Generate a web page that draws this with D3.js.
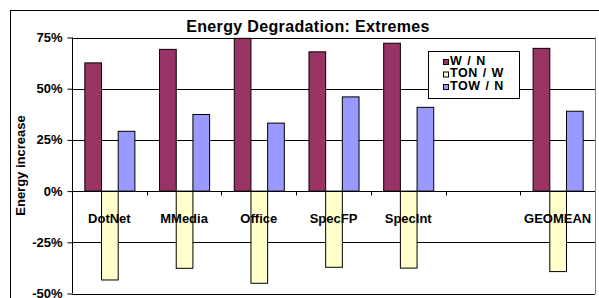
<!DOCTYPE html>
<html><head><meta charset="utf-8">
<script src="https://cdn.jsdelivr.net/npm/d3@7"></script>
<style>body{margin:0;background:#fff}svg{display:block}text{font-family:"Liberation Sans",Arial,sans-serif;font-weight:bold}</style>
</head><body><svg id="c" width="599" height="298"></svg>
<script>
const categories = ["DotNet","MMedia","Office","SpecFP","SpecInt","","GEOMEAN"];
const seriesNames = ["W / N","TON / W","TOW / N"];
const wN   = [62.6, 69.2, 74.6, 68.0, 72.2, null, 69.7];
const tonW = [-43.4, -37.7, -45.0, -37.2, -37.6, null, -39.3];
const towN = [29.2, 37.4, 33.2, 46.0, 40.9, null, 39.0];
const yTicks = [75, 50, 25, 0, -25, -50];
const colors = ["#993366","#FFFFCC","#9999FF"];

const svg = d3.select("#c");
const L = 72, R = 595, T = 37.5, B = 293.5;

// outer chart border
svg.append("rect").attr("x",10.5).attr("y",10.5).attr("width",600).attr("height",300)
  .attr("fill","none").attr("stroke","#000").attr("stroke-width",1);

const x = d3.scaleBand().domain(categories.map((c,i)=>i)).range([L,R]).paddingInner(0.33).paddingOuter(0.165);
const xs = d3.scaleBand().domain([0,1,2]).range([0,x.bandwidth()]);
const y = d3.scaleLinear().domain([-50,75]).range([B,T]);

// gridlines
svg.append("g").selectAll("line").data(yTicks).join("line")
  .attr("x1",L).attr("x2",R).attr("y1",d=>Math.round(y(d))+0.5).attr("y2",d=>Math.round(y(d))+0.5)
  .attr("stroke","#000").attr("stroke-width",1);
// plot right border
svg.append("line").attr("x1",R+0.5).attr("x2",R+0.5).attr("y1",T).attr("y2",B+0.5).attr("stroke","#808080");

// bars
const data = [wN, tonW, towN];
data.forEach((arr,s)=>{
  svg.append("g").selectAll("rect").data(arr.map((v,i)=>({v,i})).filter(d=>d.v!==null)).join("rect")
    .attr("x",d=>x(d.i)+xs(s)+0.5)
    .attr("y",d=>Math.min(y(d.v),y(0)))
    .attr("width",xs.bandwidth())
    .attr("height",d=>Math.abs(y(d.v)-y(0)))
    .attr("fill",colors[s]).attr("stroke","#000").attr("stroke-width",1);
});

// y axis
const yAxis = svg.append("g").attr("transform",`translate(${L+0.5},0)`)
  .call(d3.axisLeft(y).tickValues(yTicks).tickSize(5).tickPadding(5).tickFormat(d=>d+"%"));
yAxis.select(".domain").attr("stroke","#000").attr("d",`M0,${T}V${B}`);
yAxis.selectAll(".tick line").attr("stroke","#000");
yAxis.selectAll("text").attr("font-size",13).attr("fill","#000").attr("dy","0.3em")
  .style("font-family","Liberation Sans, Arial").style("font-weight","bold");

// zero axis with ticks at category boundaries
const y0 = Math.round(y(0))+0.5;
svg.append("line").attr("x1",L).attr("x2",R).attr("y1",y0).attr("y2",y0).attr("stroke","#000");
const step = x.step();
svg.append("g").selectAll("line").data(d3.range(1,categories.length)).join("line")
  .attr("x1",i=>Math.round(L+i*step)+0.5).attr("x2",i=>Math.round(L+i*step)+0.5)
  .attr("y1",y0).attr("y2",y0+4).attr("stroke","#000");

// category labels
svg.append("g").selectAll("text").data(categories).join("text")
  .attr("x",(d,i)=>x(i)+x.bandwidth()/2).attr("y",222.5)
  .attr("text-anchor","middle").attr("font-size",13).attr("fill","#000").text(d=>d);

// y label
svg.append("text").attr("transform",`translate(25,${(T+B)/2}) rotate(-90)`)
  .attr("text-anchor","middle").attr("font-size",13).text("Energy increase");

// title
svg.append("text").attr("x",308).attr("y",32).attr("text-anchor","middle")
  .attr("font-size",16).attr("letter-spacing",0.35).text("Energy Degradation: Extremes");

// legend
const lg = svg.append("g");
lg.append("rect").attr("x",428.5).attr("y",51.5).attr("width",91).attr("height",47)
  .attr("fill","#fff").attr("stroke","#000");
seriesNames.forEach((n,i)=>{
  lg.append("rect").attr("x",443.5).attr("y",59.5+i*12.5).attr("width",5).attr("height",5)
    .attr("fill",colors[i]).attr("stroke","#000");
  lg.append("text").attr("x",450).attr("y",64.8+i*12.5).attr("font-size",12.5)
    .attr("letter-spacing",0.5).attr("word-spacing",1).text(n);
});
</script></body></html>
